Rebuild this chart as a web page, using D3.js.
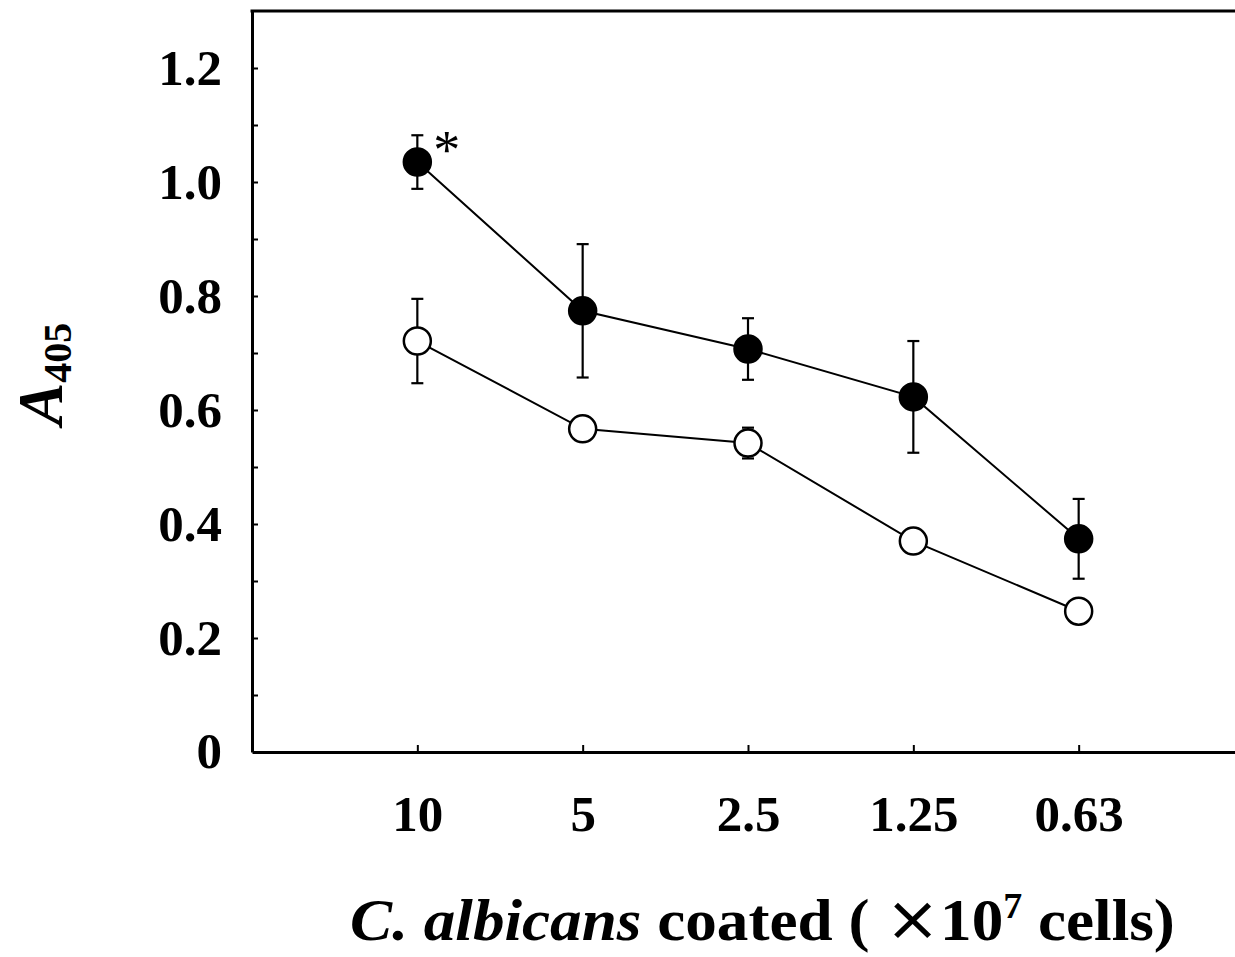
<!DOCTYPE html>
<html>
<head>
<meta charset="utf-8">
<script src="https://cdn.jsdelivr.net/npm/d3@7"></script>
<style>
  body { margin: 0; background: #fff; }
  svg { display: block; }
  text { font-family: "Liberation Serif", "Times New Roman", serif; font-weight: bold; }
</style>
</head>
<body>
<div id="chart"></div>
<script>
// categories on the x axis (x10^7 cells coated)
var categories = ["10", "5", "2.5", "1.25", "0.63"];

// filled circles
var filledMean = [1.035, 0.774, 0.707, 0.623, 0.374];
var filledErr  = [0.047, 0.117, 0.054, 0.098, 0.070];

// open circles
var openMean = [0.721, 0.567, 0.542, 0.370, 0.247];
var openErr  = [0.074, 0.010, 0.027, 0.008, 0.006];

var yTicks = [0.1, 0.2, 0.3, 0.4, 0.5, 0.6, 0.7, 0.8, 0.9, 1.0, 1.1, 1.2];
var yTickLabels = {0.2: "0.2", 0.4: "0.4", 0.6: "0.6", 0.8: "0.8", 1.0: "1.0", 1.2: "1.2"};

var W = 1235, H = 957;
var left = 252, top_ = 11, bottom = 752, right = 1244;

var svg = d3.select("#chart")
    .append("svg")
    .attr("width", W)
    .attr("height", H);

var xScale = d3.scaleLinear()
    .domain([-1, 5])
    .range([left, right]);

var yScale = d3.scaleLinear()
    .domain([0, 1.3])
    .range([bottom, top_]);

// y axis, ticks pointing inside
var yAxis = svg.append("g")
    .attr("transform", "translate(" + left + ",0)")
    .call(d3.axisLeft(yScale)
        .tickValues(yTicks)
        .tickSizeInner(-6)
        .tickSizeOuter(0)
        .tickPadding(30)
        .tickFormat(function(d) { return yTickLabels[Math.round(d * 10) / 10] || ""; }));

// "0" label at origin
yAxis.append("text")
    .attr("x", -30)
    .attr("y", yScale(0))
    .attr("dy", "0.32em")
    .attr("text-anchor", "end")
    .attr("fill", "#000")
    .text("0");

var xAxis = svg.append("g")
    .attr("transform", "translate(0," + bottom + ")")
    .call(d3.axisBottom(xScale)
        .tickValues(d3.range(categories.length))
        .tickSizeInner(-7)
        .tickSizeOuter(0)
        .tickPadding(43)
        .tickFormat(function(d) { return categories[d]; }));

[yAxis, xAxis].forEach(function(a) {
    a.selectAll(".domain").attr("stroke", "#000").attr("stroke-width", 3);
    a.selectAll(".tick line").attr("stroke", "#000").attr("stroke-width", 2);
    a.selectAll("text").style("font-size", "51px").attr("font-family", null);
});

// top frame line
svg.append("line")
    .attr("x1", left - 1.5).attr("x2", W)
    .attr("y1", top_).attr("y2", top_)
    .attr("stroke", "#000")
    .attr("stroke-width", 3);

var line = d3.line()
    .x(function(d, i) { return xScale(i); })
    .y(function(d) { return yScale(d); });

function drawSeries(means, errs, fill) {
    var g = svg.append("g");
    g.append("path")
        .datum(means)
        .attr("d", line)
        .attr("fill", "none")
        .attr("stroke", "#000")
        .attr("stroke-width", 2);

    var eb = g.selectAll(null)
        .data(means)
        .enter()
        .append("g")
        .attr("stroke", "#000")
        .attr("stroke-width", 2.2);
    eb.append("line")
        .attr("x1", function(d, i) { return xScale(i); })
        .attr("x2", function(d, i) { return xScale(i); })
        .attr("y1", function(d, i) { return yScale(d + errs[i]); })
        .attr("y2", function(d, i) { return yScale(d - errs[i]); });
    eb.append("line")
        .attr("x1", function(d, i) { return xScale(i) - 6; })
        .attr("x2", function(d, i) { return xScale(i) + 6; })
        .attr("y1", function(d, i) { return yScale(d + errs[i]); })
        .attr("y2", function(d, i) { return yScale(d + errs[i]); });
    eb.append("line")
        .attr("x1", function(d, i) { return xScale(i) - 6; })
        .attr("x2", function(d, i) { return xScale(i) + 6; })
        .attr("y1", function(d, i) { return yScale(d - errs[i]); })
        .attr("y2", function(d, i) { return yScale(d - errs[i]); });

    g.selectAll(null)
        .data(means)
        .enter()
        .append("circle")
        .attr("cx", function(d, i) { return xScale(i); })
        .attr("cy", function(d) { return yScale(d); })
        .attr("r", 13.5)
        .attr("fill", fill)
        .attr("stroke", "#000")
        .attr("stroke-width", 2.5);
}

drawSeries(openMean, openErr, "#fff");
drawSeries(filledMean, filledErr, "#000");

// significance mark
svg.append("text")
    .attr("x", xScale(0) + 16)
    .attr("y", yScale(filledMean[0] + filledErr[0]) + 33)
    .style("font-size", "54px")
    .style("font-weight", "normal")
    .text("*");

// y axis title A405
var yt = svg.append("text")
    .attr("transform", "translate(62,374) rotate(-90)")
    .attr("text-anchor", "middle");
yt.append("tspan")
    .style("font-style", "italic")
    .style("font-size", "64px")
    .text("A");
yt.append("tspan")
    .attr("dy", 9)
    .style("font-size", "40px")
    .text("405");

// x axis title
var xt = svg.append("text")
    .attr("x", 0)
    .attr("y", 0)
    .style("font-size", "60px");
xt.append("tspan").style("font-style", "italic").text("C. albicans");
xt.append("tspan").text(" coated ( ");
xt.append("tspan")
    .style("font-weight", "normal")
    .style("font-family", "'DejaVu Sans', sans-serif")
    .style("font-size", "62px")
    .text("×");
xt.append("tspan").text("10");
xt.append("tspan").attr("dy", -22).style("font-size", "36px").text("7");
xt.append("tspan").attr("dy", 22).text(" cells)");

var bb = xt.node().getBBox();
var sx = 825 / bb.width;
xt.attr("transform", "translate(350,940) scale(" + sx + ",1)");
</script>
</body>
</html>
